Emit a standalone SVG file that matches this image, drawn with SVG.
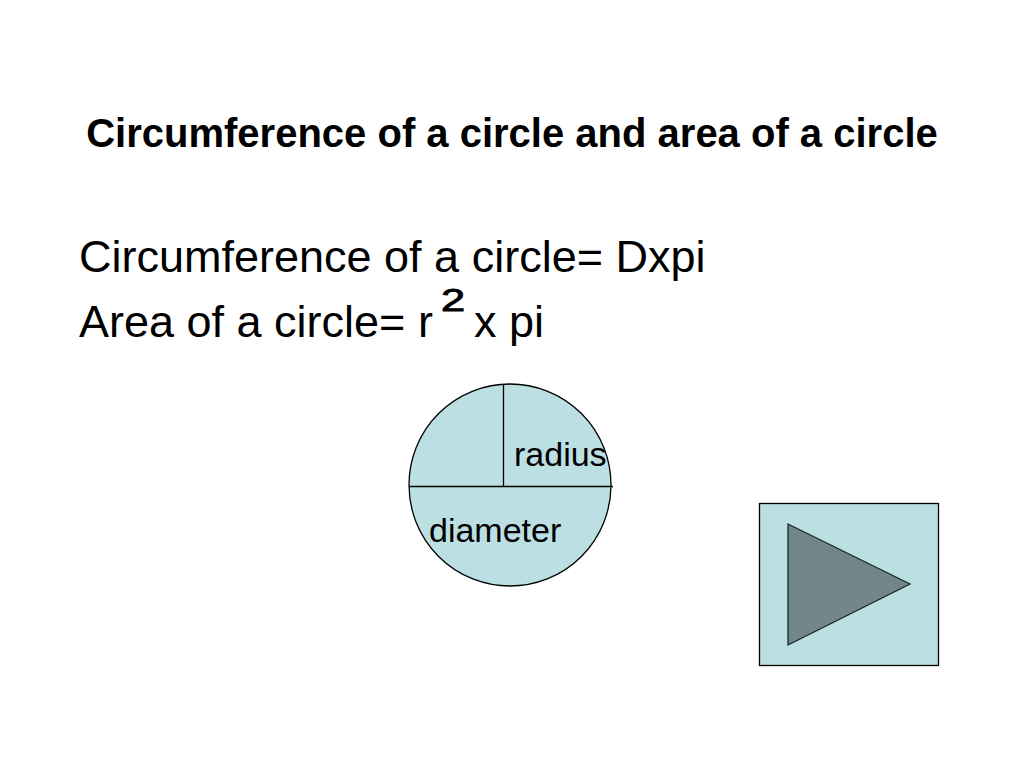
<svg xmlns="http://www.w3.org/2000/svg" width="1024" height="768" viewBox="0 0 1024 768">
<style>
text{font-family:"Liberation Sans",Arial,sans-serif;fill:#000}
.shape{fill:#BBDFE3;stroke:#000;stroke-width:1.3}
</style>
<rect width="1024" height="768" fill="#fff"/>
<text x="512" y="147" font-size="40" font-weight="bold" text-anchor="middle">Circumference of a circle and area of a circle</text>
<text x="79" y="272" font-size="45">Circumference of a circle= Dxpi</text>
<text x="79" y="337" font-size="45">Area of a circle= r</text>
<text transform="translate(441,311) scale(1.4,1)" font-size="31" stroke="#000" stroke-width="0.9">2</text>
<text x="474" y="337" font-size="45">x pi</text>
<g id="circle">
<circle class="shape" cx="510" cy="485" r="101"/>
</g>
<g id="connectors" stroke="#000" stroke-width="1.3">
<line x1="409" y1="486.5" x2="613" y2="486.5"/>
<line x1="503.5" y1="384" x2="503.5" y2="486.5"/>
</g>
<g id="radius"><text x="514" y="466" font-size="34">radius</text></g>
<g id="diameter"><text x="429" y="542" font-size="34">diameter</text></g>
<g id="play-button">
<rect class="shape" x="759.5" y="503.5" width="179" height="162" stroke-width="1"/>
<polygon points="788,524 910,584 788,645" fill="#718787" stroke="#1a2a2a" stroke-width="1.3"/>
</g>
</svg>
